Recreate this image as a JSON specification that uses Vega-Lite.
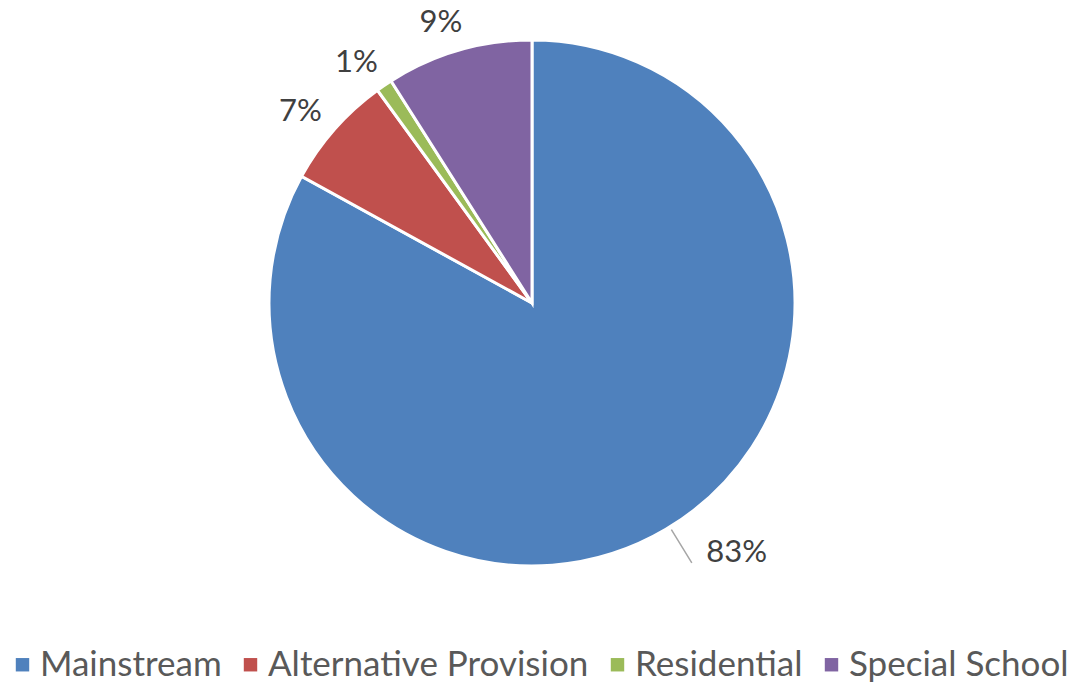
{
  "$schema": "https://vega.github.io/schema/vega-lite/v6.json",
  "width": 1064,
  "height": 606,
  "autosize": {"type": "none"},
  "padding": {"left": 0, "top": 0, "right": 10, "bottom": 79},
  "background": "white",
  "data": {
    "values": [
      {"category": "Mainstream", "value": 83, "label": "83%", "ord": 1},
      {"category": "Alternative Provision", "value": 7, "label": "7%", "ord": 2},
      {"category": "Residential", "value": 1, "label": "1%", "ord": 3},
      {"category": "Special School", "value": 9, "label": "9%", "ord": 4}
    ]
  },
  "encoding": {
    "theta": {"field": "value", "type": "quantitative", "stack": true},
    "order": {"field": "ord", "type": "quantitative"}
  },
  "layer": [
    {
      "mark": {"type": "arc", "outerRadius": 263, "stroke": "white", "strokeWidth": 3},
      "encoding": {
        "color": {
          "field": "category",
          "type": "nominal",
          "sort": ["Mainstream", "Alternative Provision", "Residential", "Special School"],
          "scale": {
            "domain": ["Mainstream", "Alternative Provision", "Residential", "Special School"],
            "range": ["#4F81BD", "#C0504D", "#9BBB59", "#8064A2"]
          },
          "legend": {
            "title": null,
            "orient": "bottom",
            "direction": "horizontal",
            "symbolType": "square",
            "symbolSize": 180,
            "symbolStrokeWidth": 0,
            "labelFont": "Lato",
            "labelFontSize": 35,
            "labelColor": "#595959",
            "labelLimit": 500,
            "labelOffset": 0,
            "columnPadding": 11,
            "padding": 5,
            "offset": 36
          }
        }
      }
    },
    {
      "transform": [{"filter": "datum.category === 'Mainstream'"}],
      "mark": {"type": "arc", "radius": 305, "radius2": 266, "thetaOffset": -2.625, "theta2Offset": -2.625, "fill": null, "stroke": "#A6A6A6", "strokeWidth": 1.5},
      "encoding": {
        "theta": {"field": "value", "type": "quantitative", "stack": null},
        "theta2": {"field": "value"}
      }
    },
    {
      "mark": {"type": "text", "radius": 298, "dx": -8, "dy": 6, "font": "Lato", "fontSize": 31, "fill": "#404040", "align": "center", "baseline": "middle"},
      "encoding": {
        "text": {"field": "label"},
        "opacity": {"condition": {"test": "datum.category === 'Mainstream'", "value": 0}, "value": 1}
      }
    },
    {
      "mark": {"type": "text", "radius": 300, "dx": 52, "dy": -8, "font": "Lato", "fontSize": 31, "fill": "#404040", "align": "center", "baseline": "middle"},
      "encoding": {
        "text": {"field": "label"},
        "opacity": {"condition": {"test": "datum.category === 'Mainstream'", "value": 1}, "value": 0}
      }
    }
  ],
  "config": {"view": {"stroke": null}}
}
